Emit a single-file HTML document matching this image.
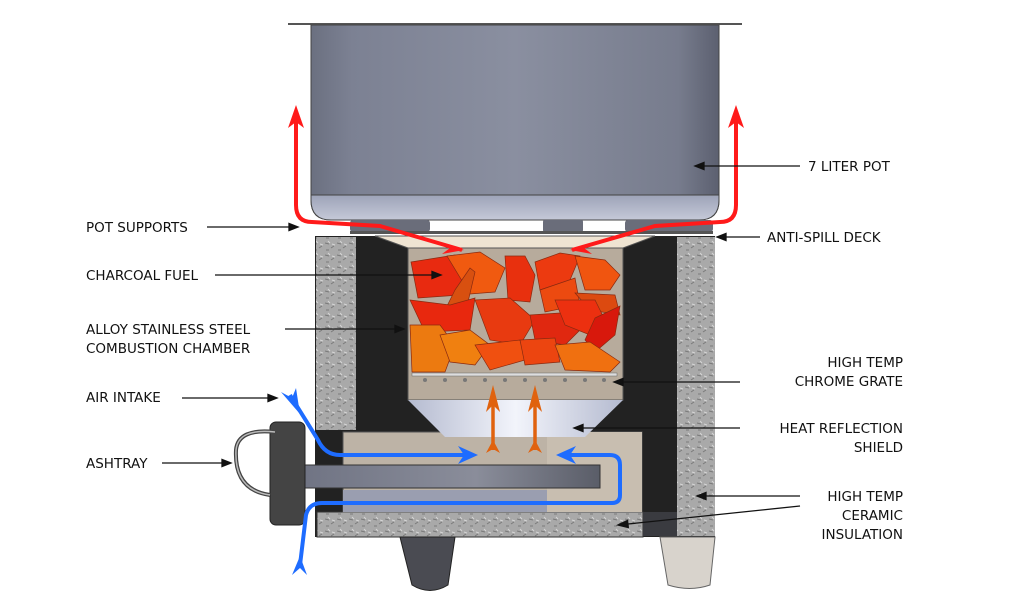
<!DOCTYPE html>
<html><head><meta charset="utf-8"><style>
html,body{margin:0;padding:0;background:#fff;}
svg{display:block;}
text{font-family:"DejaVu Sans","Liberation Sans",sans-serif;font-size:13.5px;fill:#111;}
</style></head><body>
<svg width="1024" height="616" viewBox="0 0 1024 616" xmlns="http://www.w3.org/2000/svg">
<defs>
<linearGradient id="pot" x1="0" x2="1" y1="0" y2="0">
<stop offset="0" stop-color="#6b7080"/><stop offset="0.1" stop-color="#7c8193"/><stop offset="0.5" stop-color="#8a8fa0"/><stop offset="0.9" stop-color="#777c8d"/><stop offset="1" stop-color="#5c6070"/></linearGradient>
<linearGradient id="potb" x1="0" x2="0" y1="0" y2="1"><stop offset="0" stop-color="#9da3b8"/><stop offset="1" stop-color="#c5c9d8"/></linearGradient>
<linearGradient id="cone" x1="0" x2="1"><stop offset="0" stop-color="#b5bbd0"/><stop offset="0.5" stop-color="#f2f4fb"/><stop offset="1" stop-color="#b5bbd0"/></linearGradient>
<linearGradient id="tray" x1="0" x2="1"><stop offset="0" stop-color="#6e7282"/><stop offset="0.6" stop-color="#8a8d9a"/><stop offset="1" stop-color="#5a5d68"/></linearGradient>
<pattern id="ins" width="12" height="12" patternUnits="userSpaceOnUse"><rect width="12" height="12" fill="#a9a9a9"/><path d="M1 3l4 1M7 8l3-2M2 10l3 0" stroke="#7a7a7a" stroke-width="1"/><path d="M4 1l2 2M8 4l3 1" stroke="#d6d6d6" stroke-width="1"/></pattern>
</defs>

<!-- pot -->
<rect x="288" y="23" width="454" height="2" fill="#555"/>
<path d="M311 25 H719 V200 Q719 220 699 220 H331 Q311 220 311 200 Z" fill="url(#pot)" stroke="#444" stroke-width="1"/>
<path d="M311 195 H719 V200 Q719 220 699 220 H331 Q311 220 311 200 Z" fill="url(#potb)" stroke="#444" stroke-width="1"/>
<!-- pot supports -->
<rect x="350" y="220" width="80" height="12" rx="3" fill="#6a6d7a"/>
<rect x="543" y="220" width="40" height="12" rx="2" fill="#6a6d7a"/>
<rect x="625" y="220" width="88" height="12" rx="3" fill="#6a6d7a"/>
<rect x="350" y="231" width="363" height="3" fill="#555"/>

<!-- stove body -->
<rect x="315" y="236" width="400" height="301" fill="#222"/>
<rect x="316" y="237" width="40" height="193" fill="url(#ins)"/>
<rect x="677" y="237" width="38" height="299" fill="url(#ins)"/>
<rect x="317" y="512" width="326" height="25" fill="url(#ins)" stroke="#333"/>
<rect x="643" y="512" width="34" height="24" fill="#3a3b40"/>
<!-- flare -->
<path d="M375 236 H655 L623 248 H408 Z" fill="#efe4d2" stroke="#555"/>
<!-- chamber -->
<rect x="408" y="248" width="215" height="152" fill="#b7ab9c" stroke="#555"/>
<!-- lower box -->
<rect x="343" y="432" width="299" height="80" fill="#bdb3a6" stroke="#555"/>
<rect x="547" y="432" width="95" height="80" fill="#c8beb0"/>
<rect x="343" y="490" width="204" height="22" fill="#9a9eb0"/>
<!-- cone -->
<path d="M408 400 H623 L585 437 H445 Z" fill="url(#cone)"/>
<!-- coals -->
<g stroke="#8a2a10" stroke-width="0.7">
<path d="M411 262 L455 255 L470 262 L460 295 L418 298 Z" fill="#e82a10"/>
<path d="M447 256 L480 252 L505 268 L495 292 L470 294 Z" fill="#f05a10"/>
<path d="M455 290 L470 268 L475 272 L465 315 L440 320 Z" fill="#d85010"/>
<path d="M505 256 L525 256 L535 275 L530 302 L508 300 Z" fill="#e8300e"/>
<path d="M535 262 L560 253 L580 256 L570 280 L540 290 Z" fill="#ec3a10"/>
<path d="M575 256 L605 260 L620 275 L610 290 L585 290 Z" fill="#f05510"/>
<path d="M540 290 L575 278 L580 305 L545 312 Z" fill="#ec4a10"/>
<path d="M575 293 L615 295 L620 315 L590 310 Z" fill="#dc4a10"/>
<path d="M410 300 L450 305 L475 298 L470 330 L425 332 Z" fill="#e8280e"/>
<path d="M475 300 L510 298 L535 320 L520 345 L490 340 Z" fill="#e83a10"/>
<path d="M530 315 L560 313 L580 330 L565 345 L535 340 Z" fill="#e02810"/>
<path d="M555 300 L595 300 L605 320 L590 335 L565 325 Z" fill="#ec3010"/>
<path d="M595 318 L620 306 L615 335 L595 352 L585 340 Z" fill="#d8180c"/>
<path d="M410 325 L440 325 L455 345 L445 372 L412 372 Z" fill="#ec7a10"/>
<path d="M440 335 L470 330 L490 345 L475 365 L450 362 Z" fill="#f08010"/>
<path d="M475 345 L520 340 L525 360 L490 370 Z" fill="#f05010"/>
<path d="M520 340 L555 338 L560 362 L525 365 Z" fill="#ec4510"/>
<path d="M555 345 L590 342 L620 362 L610 372 L565 370 Z" fill="#f07010"/>
</g>
<!-- grate -->
<rect x="412" y="373" width="205" height="3" fill="#ddd" stroke="#666" stroke-width="0.5"/>
<g fill="#777"><circle cx="425" cy="380" r="2"/><circle cx="445" cy="380" r="2"/><circle cx="465" cy="380" r="2"/><circle cx="485" cy="380" r="2"/><circle cx="505" cy="380" r="2"/><circle cx="525" cy="380" r="2"/><circle cx="545" cy="380" r="2"/><circle cx="565" cy="380" r="2"/><circle cx="585" cy="380" r="2"/><circle cx="604" cy="380" r="2"/></g>

<!-- ashtray -->
<rect x="290" y="465" width="310" height="23" fill="url(#tray)" stroke="#333"/>
<rect x="270" y="422" width="35" height="103" rx="6" fill="#444" stroke="#222"/>
<path d="M275 432 Q238 428 236 450 Q234 490 270 495" fill="none" stroke="#444" stroke-width="4"/>
<path d="M275 432 Q238 428 236 450 Q234 490 270 495" fill="none" stroke="#bbb" stroke-width="1.5"/>

<!-- legs -->
<path d="M400 537 H455 L448 585 Q430 596 412 585 Z" fill="#4a4b52" stroke="#222"/>
<path d="M660 537 H715 L710 585 Q690 592 668 585 Z" fill="#d8d3cc" stroke="#666"/>

<!-- red arrows -->
<g fill="none" stroke="#ff1a1a" stroke-width="4">
<path d="M296 115 V205 Q296 222 312 222 L380 226 L462 250"/>
<path d="M736 115 V205 Q736 222 720 222 L655 226 L572 250"/>
</g>
<path d="M296 105 L288 128 L296 122 L304 128 Z" fill="#ff1a1a"/>
<path d="M736 105 L728 128 L736 122 L744 128 Z" fill="#ff1a1a"/>
<path d="M464 250 L444 243 L450 248 L442 254 Z" fill="#ff1a1a"/>
<path d="M570 250 L590 243 L584 248 L592 254 Z" fill="#ff1a1a"/>

<!-- orange arrows -->
<g stroke="#e0620e" stroke-width="3.5" fill="none"><path d="M493 450 V398"/><path d="M535 450 V398"/></g>
<g fill="#e0620e"><path d="M493 385 L486 412 L493 405 L500 412 Z"/><path d="M535 385 L528 412 L535 405 L542 412 Z"/>
<path d="M493 440 L486 453 L493 449 L500 453 Z"/><path d="M535 440 L528 453 L535 449 L542 453 Z"/></g>

<!-- blue arrows -->
<g fill="none" stroke="#1e6cff" stroke-width="4">
<path d="M290 395 L318 440 Q325 455 340 455 H470"/>
<path d="M300 565 L306 515 Q309 503 322 503 H612 Q620 503 620 495 V465 Q620 455 610 455 H565"/>
</g>
<path d="M478 455 L458 446 L464 455 L458 464 Z" fill="#1e6cff"/>
<path d="M556 455 L576 446 L570 455 L576 464 Z" fill="#1e6cff"/>
<path d="M300 414 L281 392 L292 398 L296 388 Z" fill="#1e6cff"/>
<path d="M300 556 L292 575 L300 568 L307 575 Z" fill="#1e6cff"/>

<!-- leader lines -->
<g stroke="#111" stroke-width="1.3" fill="#111">
<line x1="207" y1="227" x2="290" y2="227"/><path d="M298 227 l-9 -3.5 v7 Z"/>
<line x1="215" y1="275" x2="432" y2="275"/><path d="M441 275 l-9 -3.5 v7 Z"/>
<line x1="285" y1="329" x2="395" y2="329"/><path d="M404 329 l-9 -3.5 v7 Z"/>
<line x1="182" y1="398" x2="268" y2="398"/><path d="M277 398 l-9 -3.5 v7 Z"/>
<line x1="162" y1="463" x2="222" y2="463"/><path d="M231 463 l-9 -3.5 v7 Z"/>
<line x1="800" y1="166" x2="704" y2="166"/><path d="M695 166 l9 -3.5 v7 Z"/>
<line x1="760" y1="237" x2="726" y2="237"/><path d="M717 237 l9 -3.5 v7 Z"/>
<line x1="740" y1="382" x2="623" y2="382"/><path d="M614 382 l9 -3.5 v7 Z"/>
<line x1="740" y1="428" x2="583" y2="428"/><path d="M574 428 l9 -3.5 v7 Z"/>
<line x1="800" y1="496" x2="706" y2="496"/><path d="M697 496 l9 -3.5 v7 Z"/>
<line x1="800" y1="506" x2="628" y2="524"/><path d="M618 525 l9.5 -4.5 l0.8 7 Z"/>
</g>

<!-- labels -->
<text x="86" y="232">POT SUPPORTS</text>
<text x="86" y="280">CHARCOAL FUEL</text>
<text x="86" y="334">ALLOY STAINLESS STEEL</text>
<text x="86" y="353">COMBUSTION CHAMBER</text>
<text x="86" y="402">AIR INTAKE</text>
<text x="86" y="468">ASHTRAY</text>
<text x="808" y="171">7 LITER POT</text>
<text x="767" y="242">ANTI-SPILL DECK</text>
<text x="903" y="367" text-anchor="end">HIGH TEMP</text>
<text x="903" y="386" text-anchor="end">CHROME GRATE</text>
<text x="903" y="433" text-anchor="end">HEAT REFLECTION</text>
<text x="903" y="452" text-anchor="end">SHIELD</text>
<text x="903" y="501" text-anchor="end">HIGH TEMP</text>
<text x="903" y="520" text-anchor="end">CERAMIC</text>
<text x="903" y="539" text-anchor="end">INSULATION</text>
</svg>
</body></html>
